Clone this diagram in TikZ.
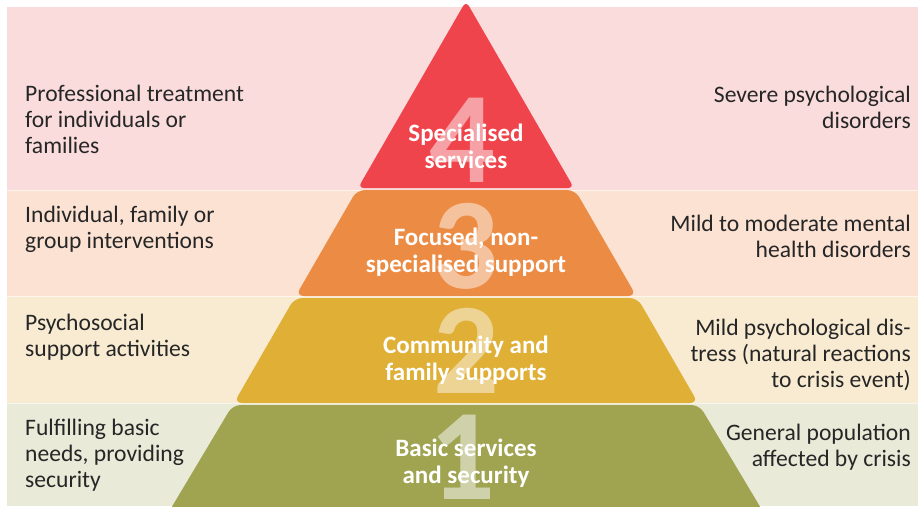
\documentclass[tikz,border=0pt]{standalone}
\usepackage{fontspec}
\setmainfont{Carlito}
\definecolor{bgfour}{HTML}{FADCDD}
\definecolor{bgthree}{HTML}{FBE2D3}
\definecolor{bgtwo}{HTML}{F8EBD2}
\definecolor{bgone}{HTML}{E9EAD8}
\definecolor{cfour}{HTML}{EF444B}
\definecolor{cthree}{HTML}{EC8B43}
\definecolor{ctwo}{HTML}{DFAF36}
\definecolor{cone}{HTML}{A0A450}
\definecolor{nfour}{HTML}{F6A1A5}
\definecolor{nthree}{HTML}{F4C39E}
\definecolor{ntwo}{HTML}{EDD494}
\definecolor{none}{HTML}{CED1A9}
\definecolor{txt}{HTML}{262626}
\tikzset{
  side/.style={font=\fontsize{23.6}{26}\selectfont, text=txt, inner sep=0pt},
  sidel/.style={side, align=left, anchor=base west},
  sider/.style={side, align=right, anchor=base east},
  lvl/.style={font=\fontsize{25}{27}\selectfont\bfseries, text=white, align=center, inner sep=0pt, anchor=base},
  num/.style={font=\fontsize{130}{130}\selectfont\bfseries, inner sep=0pt, anchor=base},
  layer/.style={rounded corners=8pt},
  sep/.style={white, opacity=0.6, line width=1pt}
}
\begin{document}
\begin{tikzpicture}[x=1pt,y=-1pt]
\useasboundingbox (0,0) rectangle (918,506);
% background bands
\fill[bgfour]  (7,7)   rectangle (918,190);
\fill[bgthree] (7,190) rectangle (918,296);
\fill[bgtwo]   (7,296) rectangle (918,403);
\fill[bgone]   (7,403) rectangle (918,506);
\draw[sep] (7,190) -- (918,190);
\draw[sep] (7,296) -- (918,296);
\draw[sep] (7,403) -- (918,403);
% pyramid layers
\fill[cfour, rounded corners=6pt] (358.0,188) -- (466,1) -- (574.0,188) -- cycle;
\fill[cthree, layer] (295.7,296) -- (356.9,190) -- (575.1,190) -- (636.3,296) -- cycle;
\fill[ctwo, layer] (233.9,403) -- (294.5,298) -- (637.5,298) -- (698.1,403) -- cycle;
\fill[cone, layer] (164,520) -- (232.7,405) -- (699.3,405) -- (768,520) -- cycle;
% big numerals
\node[num, text=nfour]  (n4) at (462,182) {4};
\node[num, text=nthree] (n3) at (465,288) {3};
\node[num, text=ntwo]   (n2) at (466,393) {2};
\node[num, text=none]   (n1) at (462,499) {1};
% level labels (anchor = baseline of last line)
\node[lvl] (l4) at (466,168) {Specialised\\services};
\node[lvl] (l3) at (466,272) {Focused, non-\\specialised support};
\node[lvl] (l2) at (466,380) {Community and\\family supports};
\node[lvl] (l1) at (466,483) {Basic services\\and security};
% left texts
\node[sidel] (a4) at (25,153) {Professional treatment\\for individuals or\\families};
\node[sidel] (a3) at (25,248) {Individual, family or\\group interventions};
\node[sidel] (a2) at (25,356) {Psychosocial\\support activities};
\node[sidel] (a1) at (25,487) {Fulfilling basic\\needs, providing\\security};
% right texts
\node[sider] (b4) at (911,128) {Severe psychological\\disorders};
\node[sider] (b3) at (911,257) {Mild to moderate mental\\health disorders};
\node[sider] (b2) at (911,387) {Mild psychological dis-\\tress (natural reactions\\to crisis event)};
\node[sider] (b1) at (911,466) {General population\\affected by crisis};
\end{tikzpicture}
\end{document}
